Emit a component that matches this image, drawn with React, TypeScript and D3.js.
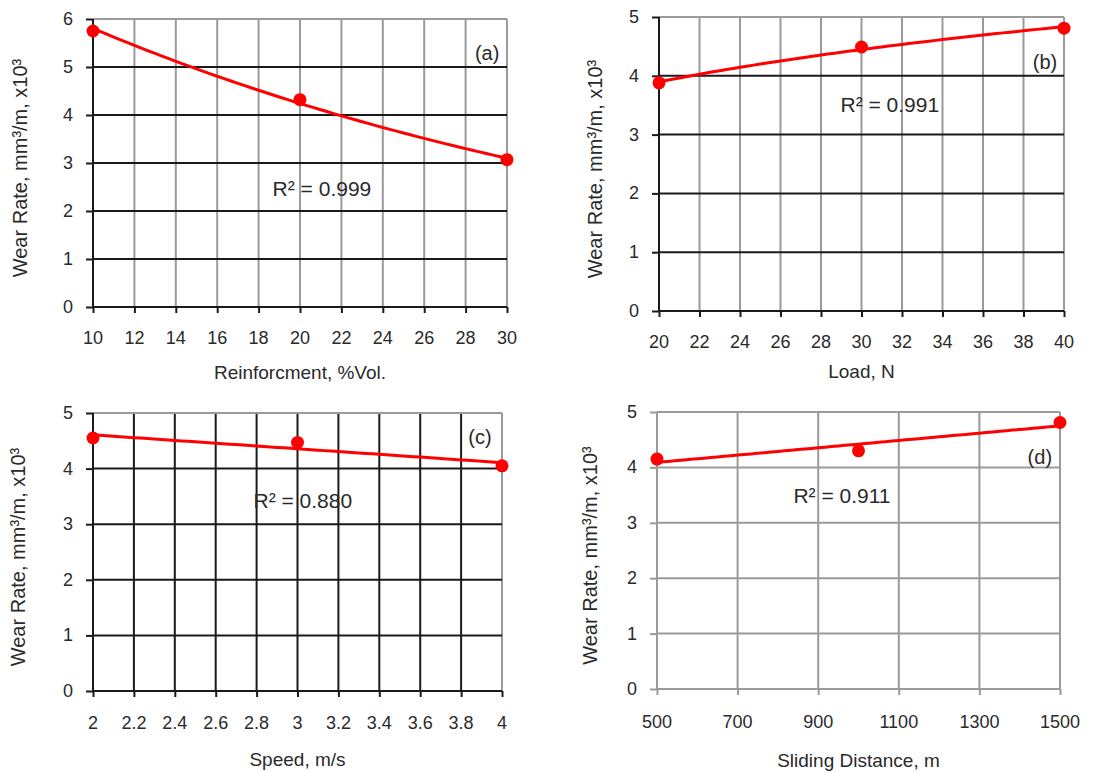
import React, { useEffect, useRef } from 'react'
import * as d3 from 'd3'

const reinforcement = [10, 20, 30]
const wearA = [5.75, 4.32, 3.07]
const load = [20, 30, 40]
const wearB = [3.88, 4.49, 4.81]
const speed = [2, 3, 4]
const wearC = [4.55, 4.47, 4.05]
const distance = [500, 1000, 1500]
const wearD = [4.15, 4.3, 4.81]

// tick labels
const ticksXA = [10, 12, 14, 16, 18, 20, 22, 24, 26, 28, 30]
const ticksYA = [0, 1, 2, 3, 4, 5, 6]
const ticksXB = [20, 22, 24, 26, 28, 30, 32, 34, 36, 38, 40]
const ticksYB = [0, 1, 2, 3, 4, 5]
const ticksXC = ['2', '2.2', '2.4', '2.6', '2.8', '3', '3.2', '3.4', '3.6', '3.8', '4']
const ticksYC = [0, 1, 2, 3, 4, 5]
const ticksXD = [500, 700, 900, 1100, 1300, 1500]
const ticksYD = [0, 1, 2, 3, 4, 5]

const r2Labels = ['R² = 0.999', 'R² = 0.991', 'R² = 0.880', 'R² = 0.911']
const panelTags = ['(a)', '(b)', '(c)', '(d)']
const xTitles = ['Reinforcment, %Vol.', 'Load, N', 'Speed, m/s', 'Sliding Distance, m']
const yTitle = 'Wear Rate,  mm³/m, x10³'

const FONT = 'Liberation Sans, Arial, sans-serif'
const GRAY = '#9a9a9a'
const DARK = '#1a1a1a'

// least squares on (u, v) -> [intercept, slope]
function lsq(u: number[], v: number[]) {
  const mu = d3.mean(u)!, mv = d3.mean(v)!
  let sxy = 0, sxx = 0
  u.forEach((a, i) => { sxy += (a - mu) * (v[i] - mv); sxx += (a - mu) ** 2 })
  const b = sxy / sxx
  return [mv - b * mu, b]
}
const fitLinear = (xs: number[], ys: number[]) => { const [a, b] = lsq(xs, ys); return (x: number) => a + b * x }
const fitExp = (xs: number[], ys: number[]) => { const [a, b] = lsq(xs, ys.map(Math.log)); return (x: number) => Math.exp(a + b * x) }
const fitLog = (xs: number[], ys: number[]) => { const [a, b] = lsq(xs.map(Math.log), ys); return (x: number) => a + b * Math.log(x) }

const panels = [
  { xs: reinforcement, ys: wearA, fit: fitExp, ticksX: ticksXA, ticksY: ticksYA,
    box: [93, 19, 507, 307], yLabelX: 20, tickGap: 31, titleGap: 65,
    r2: [0.553, 0.587], tag: [0.952, 0.118], vGrid: GRAY, hGrid: DARK, axis: DARK },
  { xs: load, ys: wearB, fit: fitLog, ticksX: ticksXB, ticksY: ticksYB,
    box: [659, 17, 1064, 311], yLabelX: 595, tickGap: 31, titleGap: 60,
    r2: [0.57, 0.299], tag: [0.953, 0.153], vGrid: GRAY, hGrid: DARK, axis: DARK },
  { xs: speed, ys: wearC, fit: fitLinear, ticksX: ticksXC, ticksY: ticksYC,
    box: [93, 413, 502, 691], yLabelX: 18, tickGap: 32, titleGap: 68,
    r2: [0.513, 0.313], tag: [0.946, 0.086], vGrid: DARK, hGrid: DARK, axis: DARK },
  { xs: distance, ys: wearD, fit: fitLinear, ticksX: ticksXD, ticksY: ticksYD,
    box: [657, 412, 1060, 689], yLabelX: 590, tickGap: 33, titleGap: 71,
    r2: [0.459, 0.3], tag: [0.95, 0.162], vGrid: GRAY, hGrid: GRAY, axis: GRAY },
]

const App = () => {
  const svgRef = useRef<SVGSVGElement>(null)

  useEffect(() => {
    const svg = d3.select(svgRef.current)
    svg.selectAll('*').remove()

    panels.forEach((p, i) => {
      const [x0, y0, x1, y1] = p.box
      const tx = p.ticksX.map(Number)
      const x = d3.scaleLinear().domain([tx[0], tx[tx.length - 1]]).range([x0, x1])
      const y = d3.scaleLinear().domain([0, p.ticksY[p.ticksY.length - 1]]).range([y1, y0])
      const g = svg.append('g').attr('font-family', FONT)
      const yMax = p.ticksY[p.ticksY.length - 1]

      // vertical grid
      g.selectAll('line.v').data(tx.slice(1)).join('line')
        .attr('x1', d => x(d)).attr('x2', d => x(d)).attr('y1', y0).attr('y2', y1)
        .attr('stroke', (d, j) => j === tx.length - 2 ? GRAY : p.vGrid).attr('stroke-width', 2)
      // horizontal grid
      g.selectAll('line.h').data(p.ticksY.slice(1)).join('line')
        .attr('x1', x0).attr('x2', x1).attr('y1', d => y(d)).attr('y2', d => y(d))
        .attr('stroke', d => d === yMax ? GRAY : p.hGrid).attr('stroke-width', 2)

      // axes with outward ticks
      const xAxis = g.append('g').attr('transform', `translate(0,${y1})`)
        .call(d3.axisBottom(x).tickValues(tx).tickSize(6).tickFormat(() => ''))
      const yAxis = g.append('g').attr('transform', `translate(${x0},0)`)
        .call(d3.axisLeft(y).tickValues(p.ticksY).tickSize(7).tickFormat(() => ''))
      ;[xAxis, yAxis].forEach(a => {
        a.select('.domain').attr('stroke', p.axis).attr('stroke-width', 2)
        a.selectAll('.tick line').attr('stroke', p.axis).attr('stroke-width', 2)
      })
      xAxis.select('.domain').attr('d', `M${x0},0H${x1}`)
      yAxis.select('.domain').attr('d', `M0,${y0}V${y1}`)

      // tick labels
      g.selectAll('text.xt').data(p.ticksX).join('text')
        .attr('x', d => x(Number(d))).attr('y', y1 + p.tickGap)
        .attr('text-anchor', 'middle').attr('dominant-baseline', 'central')
        .attr('font-size', 18).attr('fill', '#2a2a2a').text(d => String(d))
      g.selectAll('text.yt').data(p.ticksY).join('text')
        .attr('x', x0 - 20).attr('y', d => y(d))
        .attr('text-anchor', 'end').attr('dominant-baseline', 'central')
        .attr('font-size', 18).attr('fill', '#2a2a2a').text(d => String(d))

      // axis titles
      g.append('text').attr('x', (x0 + x1) / 2).attr('y', y1 + p.titleGap)
        .attr('text-anchor', 'middle').attr('dominant-baseline', 'central')
        .attr('font-size', 19).attr('fill', '#2a2a2a').text(xTitles[i])
      g.append('text').attr('transform', `translate(${p.yLabelX},${(y0 + y1) / 2 + 5}) rotate(-90)`)
        .attr('text-anchor', 'middle').attr('dominant-baseline', 'central')
        .attr('font-size', 20).attr('fill', '#2a2a2a').text(yTitle)

      // trend line
      const [dx0, dx1] = x.domain()
      const xsFine = d3.range(0, 61).map(k => dx0 + (dx1 - dx0) * k / 60)
      const line = d3.line<number>().x(d => x(d)).y(d => y(p.fit(p.xs, p.ys)(d)))
      g.append('path').datum(xsFine).attr('d', line)
        .attr('fill', 'none').attr('stroke', '#ff0000').attr('stroke-width', 3)

      // points
      g.selectAll('circle').data(p.xs).join('circle')
        .attr('cx', d => x(d)).attr('cy', (d, j) => y(p.ys[j])).attr('r', 6.5)
        .attr('fill', '#ff0000')

      // annotations
      g.append('text').attr('x', x0 + (x1 - x0) * p.r2[0]).attr('y', y0 + (y1 - y0) * p.r2[1])
        .attr('text-anchor', 'middle').attr('dominant-baseline', 'central')
        .attr('font-size', 21).attr('fill', '#2a2a2a').text(r2Labels[i])
      g.append('text').attr('x', x0 + (x1 - x0) * p.tag[0]).attr('y', y0 + (y1 - y0) * p.tag[1])
        .attr('text-anchor', 'middle').attr('dominant-baseline', 'central')
        .attr('font-size', 20).attr('fill', '#2a2a2a').text(panelTags[i])
    })
  }, [])

  return (
    <svg ref={svgRef} width={1097} height={772}
      style={{ position: 'absolute', left: 0, top: 0, background: '#fff' }} />
  )
}

export default App
